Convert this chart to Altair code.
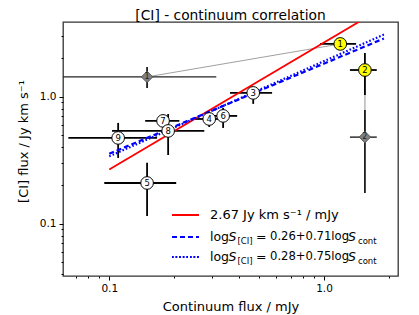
import altair as alt
import pandas as pd

# ---------------- data ----------------
num = ["1", "2", "3", "4", "5", "6", "7", "8", "9"]
cont = [1.19, 1.55, 0.468, 0.292, 0.150, 0.339, 0.178, 0.188, 0.110]
cont_lo = [0.958, 1.32, 0.365, 0.246, 0.0948, 0.29, 0.147, 0.103, 0.0645]
cont_hi = [1.41, 1.76, 0.573, 0.33, 0.205, 0.394, 0.212, 0.277, 0.167]
ci = [2.60, 1.62, 1.07, 0.667, 0.209, 0.705, 0.644, 0.537, 0.473]
ci_lo = [2.60, 1.03, 0.877, 0.577, 0.115, 0.567, 0.60, 0.347, 0.329]
ci_hi = [2.60, 2.21, 1.19, 0.744, 0.301, 0.815, 0.69, 0.73, 0.621]
fillc = ["#ffff00", "#ffff00", "white", "white", "white", "white", "white", "white", "white"]

alt_num = ["1", "2"]
alt_cont = [0.150, 1.55]
alt_cont_lo = [0.04, 1.32]
alt_cont_hi = [0.315, 1.76]
alt_ci = [1.43, 0.48]
alt_ci_lo = [1.17, 0.174]
alt_ci_hi = [1.71, 0.786]

# fit lines (end points)
red_x = [0.1, 2.0]
red_y = [0.267, 5.34]
dash_x = [0.1, 1.9]
dash_y = [0.355, 2.87]
dot_x = [0.1, 1.9]
dot_y = [0.339, 3.08]

x_major = [0.1, 1.0]
x_minor = [0.07, 0.08, 0.09, 0.2, 0.3, 0.4, 0.5, 0.6, 0.7, 0.8, 0.9, 2.0]
y_major = [0.1, 1.0]
y_minor = [0.04, 0.05, 0.06, 0.07, 0.08, 0.09, 0.2, 0.3, 0.4, 0.5, 0.6, 0.7, 0.8, 0.9, 2.0, 3.0]

# ---------------- layout ----------------
W, H = 335, 254
FONT = "DejaVu Sans"

pts = pd.DataFrame(dict(num=num, x=cont, xlo=cont_lo, xhi=cont_hi,
                        y=ci, ylo=ci_lo, yhi=ci_hi, fillc=fillc))
apts = pd.DataFrame(dict(num=alt_num, x=alt_cont, xlo=alt_cont_lo, xhi=alt_cont_hi,
                         y=alt_ci, ylo=alt_ci_lo, yhi=alt_ci_hi))
conn = pd.DataFrame(dict(x=[alt_cont[0], cont[1]], x2=[cont[0], alt_cont[1]],
                         y=[alt_ci[0], ci[1]], y2=[ci[0], alt_ci[1]],
                         c=["#888888", "#bbbbbb"], w=[0.8, 1.6]))
red = pd.DataFrame(dict(x=red_x, y=red_y))
dash = pd.DataFrame(dict(x=dash_x, y=dash_y))
dot = pd.DataFrame(dict(x=dot_x, y=dot_y))

xs = alt.Scale(type="log", domain=[0.0609, 2.21], nice=False)
ys = alt.Scale(type="log", domain=[0.0387, 3.87], nice=False)

LAB_EXPR = "datum.value == 0.1 ? '0.1' : datum.value == 1 ? '1.0' : ''"
tick_cond = {"condition": {"test": "datum.value == 0.1 || datum.value == 1", "value": 4}, "value": 2}

xaxis = alt.Axis(values=sorted(x_major + x_minor), labelExpr=LAB_EXPR,
                 tickSize=tick_cond, grid=False, domain=False, tickColor="black",
                 labelColor="black", labelFont=FONT, labelFontSize=10.5, labelPadding=3,
                 title="Continuum flux / mJy", titleFont=FONT, titleFontSize=13,
                 titleFontWeight="normal", titleColor="black", titleY=30,
                 titleBaseline="middle", labelFlush=False, labelOverlap=False)
yaxis = alt.Axis(values=sorted(y_major + y_minor), labelExpr=LAB_EXPR,
                 tickSize=tick_cond, grid=False, domain=False, tickColor="black",
                 labelColor="black", labelFont=FONT, labelFontSize=10.5, labelPadding=3,
                 title="[CI] flux / Jy km s⁻¹", titleFont=FONT, titleFontSize=13,
                 titleFontWeight="normal", titleColor="black", titleX=-40, titleY=119,
                 titleBaseline="middle", labelFlush=False, labelOverlap=False)

def X(f):
    return alt.X(f, type="quantitative", scale=xs, axis=xaxis)

def Y(f):
    return alt.Y(f, type="quantitative", scale=ys, axis=yaxis)

layers = []

# connectors
layers.append(alt.Chart(conn).mark_rule(clip=True).encode(
    x=X("x"), x2="x2", y=Y("y"), y2="y2",
    color=alt.Color("c:N", scale=None), strokeWidth=alt.StrokeWidth("w:Q", scale=None)))

# error bars: alternative (diamond) points
layers.append(alt.Chart(apts).mark_rule(clip=True, color="#222222", strokeWidth=1.4).encode(
    x=X("xlo"), x2="xhi", y=Y("y")))
layers.append(alt.Chart(apts).mark_rule(clip=True, color="#111111", strokeWidth=1.7).encode(
    x=X("x"), y=Y("ylo"), y2="yhi"))
# error bars: main points
layers.append(alt.Chart(pts).mark_rule(clip=True, color="black", strokeWidth=1.8).encode(
    x=X("xlo"), x2="xhi", y=Y("y")))
layers.append(alt.Chart(pts).mark_rule(clip=True, color="black", strokeWidth=1.8).encode(
    x=X("x"), y=Y("ylo"), y2="yhi"))

# fit lines
layers.append(alt.Chart(red).mark_line(clip=True, color="red", strokeWidth=1.8).encode(
    x=X("x"), y=Y("y")))
layers.append(alt.Chart(dash).mark_line(clip=True, color="blue", strokeWidth=2.2,
                                        strokeDash=[5, 3]).encode(x=X("x"), y=Y("y")))
layers.append(alt.Chart(dot).mark_line(clip=True, color="blue", strokeWidth=2.2,
                                       strokeDash=[1.6, 2]).encode(x=X("x"), y=Y("y")))

# markers
layers.append(alt.Chart(apts).mark_point(shape="diamond", filled=True, fill="#808080",
                                         stroke="#555555", strokeWidth=1, size=130,
                                         opacity=1).encode(x=X("x"), y=Y("y")))
layers.append(alt.Chart(apts).mark_text(font=FONT, fontSize=8, color="#222222").encode(
    x=X("x"), y=Y("y"), text="num:N"))
layers.append(alt.Chart(pts).mark_point(shape="circle", filled=True, stroke="black",
                                        strokeWidth=1, size=160, opacity=1).encode(
    x=X("x"), y=Y("y"), fill=alt.Fill("fillc:N", scale=None)))
layers.append(alt.Chart(pts).mark_text(font=FONT, fontSize=8.5, color="black").encode(
    x=X("x"), y=Y("y"), text="num:N"))

# ---------------- legend (drawn by hand to allow sub/superscripts) ----------------
OX, OY = 63, 22  # plot origin on the page
rows_y = [215, 237, 257]
leg_styles = [("red", None), ("blue", [5, 3]), ("blue", [1.6, 2])]
for (col, dashp), ry in zip(leg_styles, rows_y):
    kw = dict(color=col, strokeWidth=2.0 if dashp is None else 2.2)
    if dashp:
        kw["strokeDash"] = dashp
    layers.append(alt.Chart(red).mark_rule(**kw).encode(
        x=alt.value(172 - OX), x2=alt.value(199 - OX), y=alt.value(ry - OY)))

leg_text_rows = [
    [("2.67 Jy km s⁻¹ / mJy", 210, 13, "normal", 0)],
    [("log", 210, 12.5, "normal", 0), ("S", 228.5, 12.5, "italic", 0),
     ("[CI]", 237.5, 8.5, "normal", 3.5), ("=", 256, 12.5, "normal", 0),
     ("0.26+0.71log", 270, 11.6, "normal", 0), ("S", 348, 12.5, "italic", 0),
     ("cont", 358, 8.5, "normal", 3.5)],
    [("log", 210, 12.5, "normal", 0), ("S", 228.5, 12.5, "italic", 0),
     ("[CI]", 237.5, 8.5, "normal", 3.5), ("=", 256, 12.5, "normal", 0),
     ("0.28+0.75log", 270, 11.6, "normal", 0), ("S", 348, 12.5, "italic", 0),
     ("cont", 358, 8.5, "normal", 3.5)],
]
for segs, ry in zip(leg_text_rows, rows_y):
    for txt, px, fs, style, dy in segs:
        d = pd.DataFrame({"t": [txt]})
        layers.append(alt.Chart(d).mark_text(font=FONT, fontSize=fs, fontStyle=style,
                                             align="left", baseline="middle",
                                             color="black", dy=dy).encode(
            x=alt.value(px - OX), y=alt.value(ry - OY), text="t:N"))

# chart title drawn as a text mark so it can sit close to the top of the page
layers.append(alt.Chart(pd.DataFrame({"t": ["[CI] - continuum correlation"]})).mark_text(
    font=FONT, fontSize=13.8, align="center", baseline="alphabetic", color="black").encode(
    x=alt.value(W / 2), y=alt.value(-2.5), text="t:N"))

chart = alt.layer(*layers).properties(
    width=W, height=H,
    autosize=alt.AutoSizeParams(type="none"),
    padding={"left": 55, "top": 14, "right": 13, "bottom": 38},
    background="white",
).configure_view(stroke="#333333", strokeWidth=1.3)

chart.save("out.html", embed_options={"renderer": "svg", "actions": False})
